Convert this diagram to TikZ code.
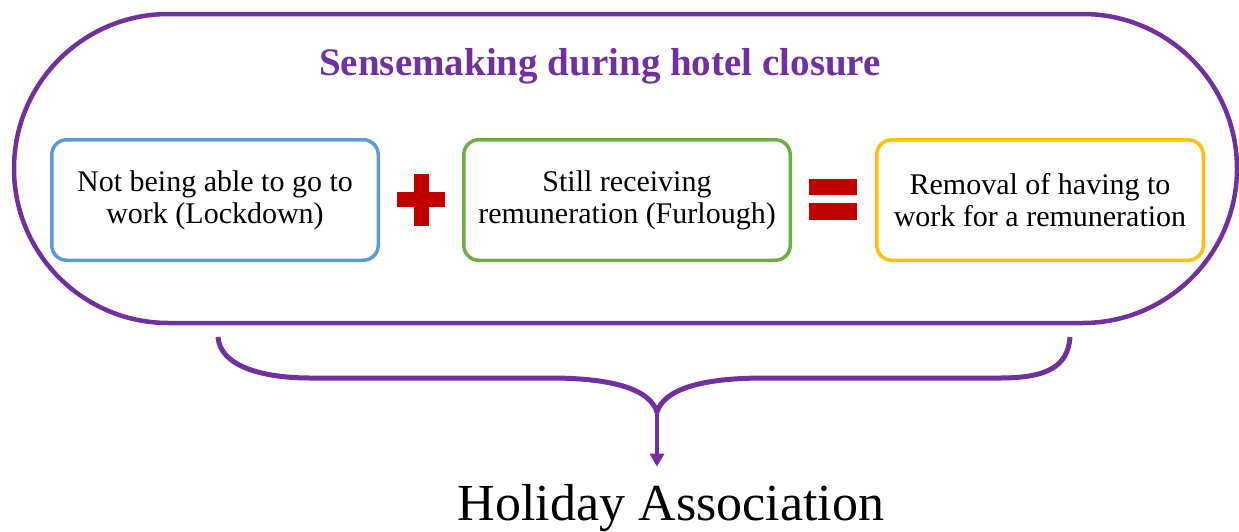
\documentclass[tikz,border=0pt]{standalone}
\usepackage{fontspec}
\setmainfont{Liberation Serif}
\usetikzlibrary{arrows.meta, positioning, shapes.misc}
\definecolor{framepurple}{HTML}{7030A0}
\definecolor{lockblue}{HTML}{5B9BD5}
\definecolor{furloughgreen}{HTML}{70AD47}
\definecolor{removalyellow}{HTML}{FFC000}
\definecolor{signred}{HTML}{C00000}

\begin{document}
\begin{tikzpicture}[
  x=1pt, y=-1pt,
  box/.style={draw, line width=3.5pt, rounded corners=15pt, align=center,
              minimum width=326.5pt, minimum height=120.5pt, inner sep=0pt,
              font=\fontsize{30}{32}\selectfont},
  bar/.style={fill=signred, inner sep=0pt, outer sep=0pt},
  brace/.style={draw=framepurple, line width=5pt},
  arr/.style={-{Triangle[length=13pt, width=14pt]}, draw=framepurple,
              fill=framepurple, line width=3.5pt}
]
\useasboundingbox (0,0) rectangle (1239,531);
\node[rounded rectangle, draw=framepurple, line width=4.5pt, minimum width=1223pt,
      minimum height=309pt, inner sep=0pt] (frame) at (625.5,168.5) {};
\node[font=\bfseries\fontsize{39}{44}\selectfont, text=framepurple, anchor=base]
  (title) at (600,75) {Sensemaking during hotel closure};
\node[box, draw=lockblue] (lockdown) at (215,200) {Not being able to go to\\work (Lockdown)};
\node[box, draw=furloughgreen, right=82pt of lockdown] (furlough) {Still receiving\\remuneration (Furlough)};
\node[box, draw=removalyellow, right=83pt of furlough] (removal) {Removal of having to\\work for a remuneration};
\node[bar, minimum width=48pt, minimum height=15pt] (plusH) at (421,199.5) {};
\node[bar, minimum width=15pt, minimum height=52pt] (plusV) at (plusH) {};
\node[bar, minimum width=48pt, minimum height=16pt] (eqTop) at (833,187) {};
\node[bar, minimum width=48pt, minimum height=17pt, below=8pt of eqTop] (eqBot) {};
\coordinate (braceL) at (218,337);
\coordinate (braceR) at (1070,337);
\coordinate (braceTip) at (657,412);
\draw[brace] (braceL) .. controls (220,366) and (262,378) .. (310,378) -- (550,378)
  .. controls (615,378) and (650,390) .. (braceTip)
  .. controls (664,390) and (699,378) .. (764,378) -- (1000,378)
  .. controls (1048,378) and (1068,366) .. (braceR);
\node[font=\fontsize{52}{60}\selectfont, inner sep=0pt, anchor=base]
  (holiday) at (671,520) {Holiday Association};
\draw[arr, shorten >=17pt] (braceTip) -- (braceTip |- holiday.north);
\end{tikzpicture}
\end{document}
